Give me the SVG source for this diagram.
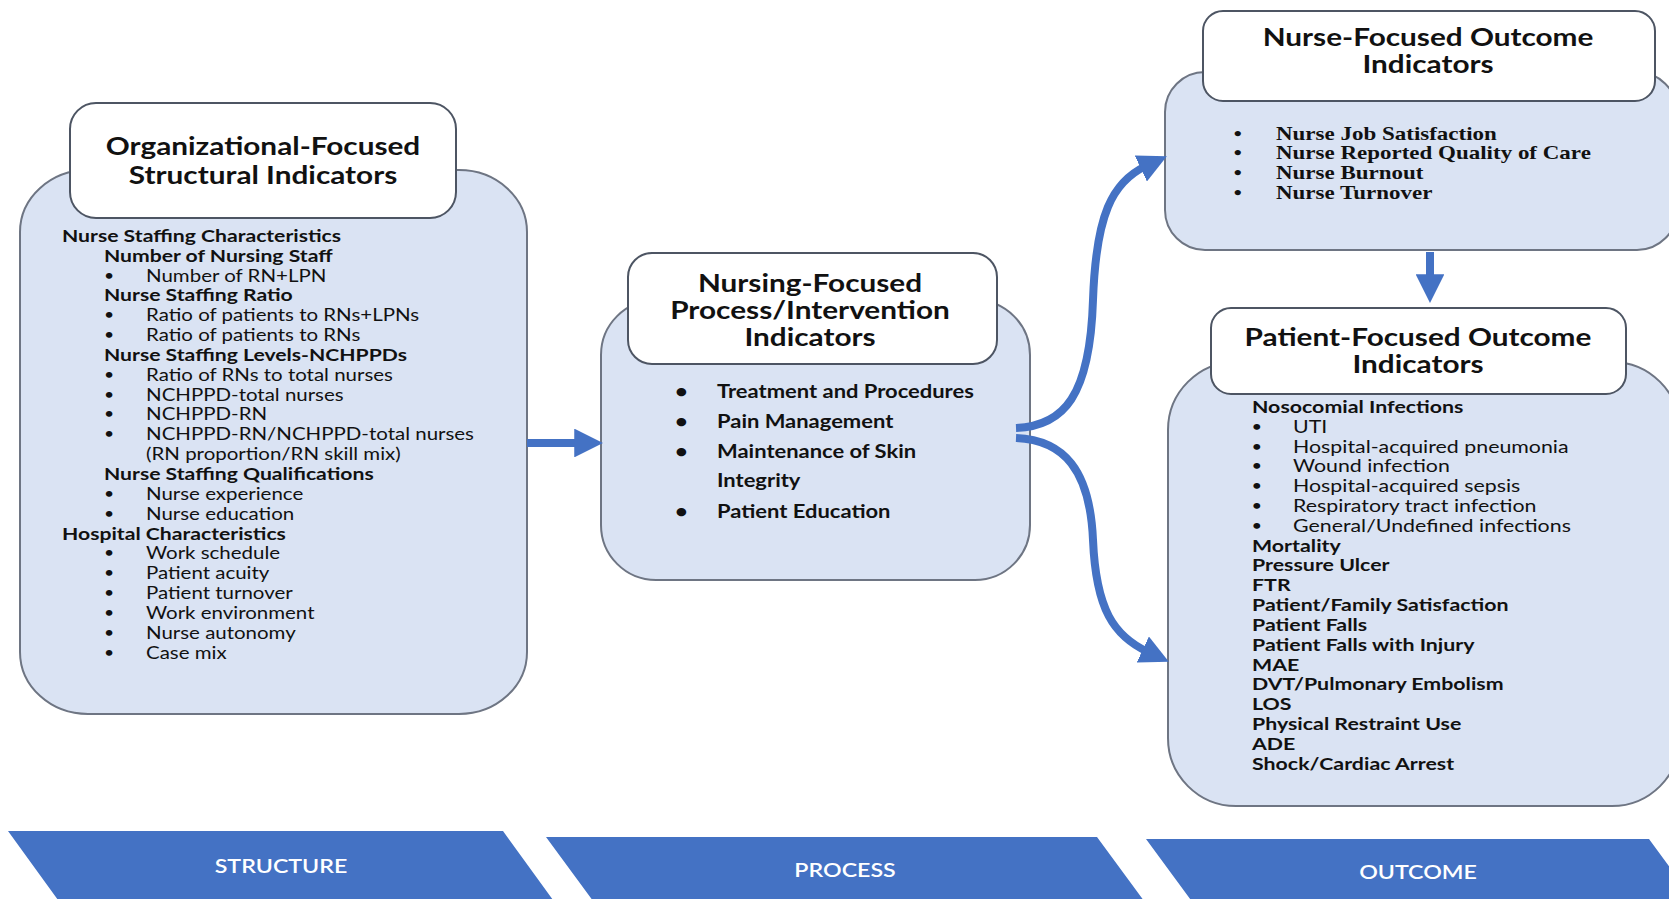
<svg xmlns="http://www.w3.org/2000/svg" width="1669" height="899" viewBox="0 0 1669 899">
  <style>
    .panel { fill: #dae3f3; stroke: #6e7583; stroke-width: 2; }
    .head { fill: #ffffff; stroke: #4d5563; stroke-width: 2; }
    .title { font-family: Lato, "Liberation Sans", sans-serif; font-weight: 700; font-size: 24px; fill: #111; text-anchor: middle; }
    .b { font-family: Lato, "Liberation Sans", sans-serif; font-weight: 700; font-size: 17.5px; fill: #111; }
    .r { font-family: Lato, "Liberation Sans", sans-serif; font-weight: 400; font-size: 17.5px; fill: #111; }
    .dot { font-family: Lato, "Liberation Sans", sans-serif; font-weight: 400; font-size: 15px; fill: #111; }
    .mid { font-family: Lato, "Liberation Sans", sans-serif; font-weight: 700; font-size: 18px; fill: #111; }
    .serif { font-family: "Liberation Serif", serif; font-weight: 700; font-size: 19px; fill: #111; }
    .chev { fill: #4472c4; }
    .chevtext { font-family: Lato, "Liberation Sans", sans-serif; font-weight: 600; font-size: 20px; fill: #ffffff; text-anchor: middle; }
    .link { fill: none; stroke: #4472c4; stroke-width: 8; }
  </style>
  <defs>
    <marker id="head" viewBox="0 0 10 10" refX="2" refY="5" markerWidth="3.6" markerHeight="3.6" orient="auto" markerUnits="strokeWidth">
      <path d="M0,0 L10,5 L0,10 Z" fill="#4472c4"/>
    </marker>
  </defs>

  <rect width="1669" height="899" fill="#ffffff"/>

  <!-- Structure: organizational indicators -->
  <g id="structure-node">
    <rect class="panel" x="20" y="170" width="507" height="544" rx="68" ry="62"/>
    <rect class="head" x="70" y="103" width="386" height="115" rx="26"/>
    <g transform="translate(263 0) scale(1.24 1)">
      <text class="title" x="0" y="155">Organizational-Focused</text>
      <text class="title" x="0" y="184">Structural Indicators</text>
    </g>
    <!-- group headings -->
    <g transform="translate(62 0) scale(1.21 1)">
      <text class="b" x="0" y="242">Nurse Staffing Characteristics</text>
      <text class="b" x="34.7" y="262">Number of Nursing Staff</text>
      <text class="b" x="34.7" y="301">Nurse Staffing Ratio</text>
      <text class="b" x="34.7" y="361">Nurse Staffing Levels-NCHPPDs</text>
      <text class="b" x="34.7" y="480">Nurse Staffing Qualifications</text>
      <text class="b" x="0" y="540">Hospital Characteristics</text>
    </g>
    <!-- bullet items -->
    <g transform="translate(62 0) scale(1.17 1)">
      <text class="dot" x="36" y="281">•</text><text class="r" x="71.8" y="282">Number of RN+LPN</text>
      <text class="dot" x="36" y="320">•</text><text class="r" x="71.8" y="321">Ratio of patients to RNs+LPNs</text>
      <text class="dot" x="36" y="340">•</text><text class="r" x="71.8" y="341">Ratio of patients to RNs</text>
      <text class="dot" x="36" y="380">•</text><text class="r" x="71.8" y="381">Ratio of RNs to total nurses</text>
      <text class="dot" x="36" y="400">•</text><text class="r" x="71.8" y="401">NCHPPD-total nurses</text>
      <text class="dot" x="36" y="419">•</text><text class="r" x="71.8" y="420">NCHPPD-RN</text>
      <text class="dot" x="36" y="439">•</text><text class="r" x="71.8" y="440">NCHPPD-RN/NCHPPD-total nurses</text>
      <text class="r" x="71.8" y="460">(RN proportion/RN skill mix)</text>
      <text class="dot" x="36" y="499">•</text><text class="r" x="71.8" y="500">Nurse experience</text>
      <text class="dot" x="36" y="519">•</text><text class="r" x="71.8" y="520">Nurse education</text>
      <text class="dot" x="36" y="558">•</text><text class="r" x="71.8" y="559">Work schedule</text>
      <text class="dot" x="36" y="578">•</text><text class="r" x="71.8" y="579">Patient acuity</text>
      <text class="dot" x="36" y="598">•</text><text class="r" x="71.8" y="599">Patient turnover</text>
      <text class="dot" x="36" y="618">•</text><text class="r" x="71.8" y="619">Work environment</text>
      <text class="dot" x="36" y="638">•</text><text class="r" x="71.8" y="639">Nurse autonomy</text>
      <text class="dot" x="36" y="658">•</text><text class="r" x="71.8" y="659">Case mix</text>
    </g>
  </g>

  <!-- Process: nursing interventions -->
  <g id="process-node">
    <rect class="panel" x="601" y="300" width="429" height="280" rx="55"/>
    <rect class="head" x="628" y="253" width="369" height="111" rx="24"/>
    <g transform="translate(810 0) scale(1.24 1)">
      <text class="title" x="0" y="292">Nursing-Focused</text>
      <text class="title" x="0" y="319">Process/Intervention</text>
      <text class="title" x="0" y="346">Indicators</text>
    </g>
    <g transform="translate(717 0) scale(1.22 1)">
      <text class="mid" x="-34.5" y="398">•</text><text class="mid" x="0" y="398">Treatment and Procedures</text>
      <text class="mid" x="-34.5" y="428">•</text><text class="mid" x="0" y="428">Pain Management</text>
      <text class="mid" x="-34.5" y="458">•</text><text class="mid" x="0" y="458">Maintenance of Skin</text>
      <text class="mid" x="0" y="487">Integrity</text>
      <text class="mid" x="-34.5" y="518">•</text><text class="mid" x="0" y="518">Patient Education</text>
    </g>
  </g>

  <!-- Outcome: nurse-focused -->
  <g id="nurse-outcome-node">
    <rect class="panel" x="1165" y="72" width="512" height="178" rx="40"/>
    <rect class="head" x="1203" y="11" width="452" height="90" rx="20"/>
    <g transform="translate(1428 0) scale(1.24 1)">
      <text class="title" x="0" y="46">Nurse-Focused Outcome</text>
      <text class="title" x="0" y="73">Indicators</text>
    </g>
    <g transform="translate(1276 0) scale(1.21 1)">
      <text class="serif" x="-35" y="140">•</text><text class="serif" x="0" y="140">Nurse Job Satisfaction</text>
      <text class="serif" x="-35" y="159">•</text><text class="serif" x="0" y="159">Nurse Reported Quality of Care</text>
      <text class="serif" x="-35" y="179">•</text><text class="serif" x="0" y="179">Nurse Burnout</text>
      <text class="serif" x="-35" y="199">•</text><text class="serif" x="0" y="199">Nurse Turnover</text>
    </g>
  </g>

  <!-- Outcome: patient-focused -->
  <g id="patient-outcome-node">
    <rect class="panel" x="1168" y="362" width="512" height="444" rx="68"/>
    <rect class="head" x="1211" y="308" width="415" height="86" rx="20"/>
    <g transform="translate(1418 0) scale(1.24 1)">
      <text class="title" x="0" y="346">Patient-Focused Outcome</text>
      <text class="title" x="0" y="373">Indicators</text>
    </g>
    <g transform="translate(1252 0) scale(1.22 1)">
      <text class="b" x="0" y="413">Nosocomial Infections</text>
      <text class="dot" x="-0.5" y="432">•</text><text class="r" x="33.6" y="433">UTI</text>
      <text class="dot" x="-0.5" y="452">•</text><text class="r" x="33.6" y="453">Hospital-acquired pneumonia</text>
      <text class="dot" x="-0.5" y="471">•</text><text class="r" x="33.6" y="472">Wound infection</text>
      <text class="dot" x="-0.5" y="491">•</text><text class="r" x="33.6" y="492">Hospital-acquired sepsis</text>
      <text class="dot" x="-0.5" y="511">•</text><text class="r" x="33.6" y="512">Respiratory tract infection</text>
      <text class="dot" x="-0.5" y="531">•</text><text class="r" x="33.6" y="532">General/Undefined infections</text>
      <text class="b" x="0" y="552">Mortality</text>
      <text class="b" x="0" y="571">Pressure Ulcer</text>
      <text class="b" x="0" y="591">FTR</text>
      <text class="b" x="0" y="611">Patient/Family Satisfaction</text>
      <text class="b" x="0" y="631">Patient Falls</text>
      <text class="b" x="0" y="651">Patient Falls with Injury</text>
      <text class="b" x="0" y="671">MAE</text>
      <text class="b" x="0" y="690">DVT/Pulmonary Embolism</text>
      <text class="b" x="0" y="710">LOS</text>
      <text class="b" x="0" y="730">Physical Restraint Use</text>
      <text class="b" x="0" y="750">ADE</text>
      <text class="b" x="0" y="770">Shock/Cardiac Arrest</text>
    </g>
  </g>

  <!-- Connectors -->
  <g id="connectors">
    <path class="link" d="M527,443 L580,443" stroke-width="7" marker-end="url(#head)"/>
    <path class="link" d="M1016,428 C1064,426 1090,396 1093,300 C1096,215 1112,182 1146,166" marker-end="url(#head)"/>
    <path class="link" d="M1016,438 C1064,440 1090,470 1093,540 C1096,610 1114,636 1148,652" marker-end="url(#head)"/>
    <path class="link" d="M1430,252 L1430,280" marker-end="url(#head)"/>
  </g>

  <!-- Bottom phase chevrons -->
  <g id="phase-structure">
    <polygon class="chev" points="8,831 503,831 553,900 503,969 8,969 58,900"/>
    <g transform="translate(281 0) scale(1.16 1)"><text class="chevtext" x="0" y="873">STRUCTURE</text></g>
  </g>
  <g id="phase-process">
    <polygon class="chev" points="546,837 1097,837 1147,905 1097,974 546,974 596,905"/>
    <g transform="translate(845 0) scale(1.16 1)"><text class="chevtext" x="0" y="877">PROCESS</text></g>
  </g>
  <g id="phase-outcome">
    <polygon class="chev" points="1146,839 1649,839 1699,907 1649,976 1146,976 1196,907"/>
    <g transform="translate(1418 0) scale(1.16 1)"><text class="chevtext" x="0" y="879">OUTCOME</text></g>
  </g>
</svg>
